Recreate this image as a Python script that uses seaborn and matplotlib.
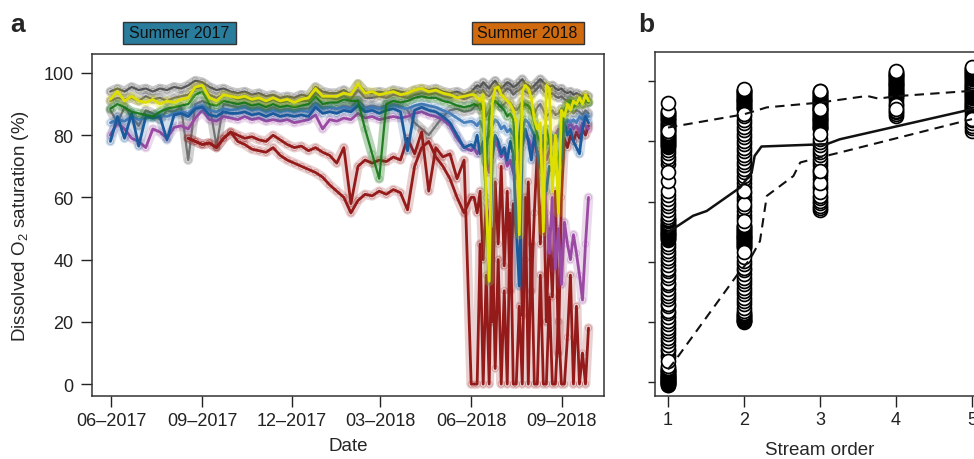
import matplotlib
matplotlib.use('Agg')
import matplotlib.pyplot as plt
from matplotlib.patches import Rectangle
import seaborn as sns
import pandas as pd
import numpy as np

sns.set_style('ticks')
plt.rcParams['font.family'] = ['Liberation Sans', 'DejaVu Sans']
plt.rcParams['mathtext.default'] = 'regular'

# ---- panel a: O2 saturation time series ----
# weekly values until end of May 2018, then every ~3 days over summer 2018
wk_dates = pd.date_range('2017-05-31', '2018-06-01', periods=52)
sm_dates = pd.date_range('2018-06-04', '2018-09-28', periods=39)

g1_wk = [94, 95, 94, 95.5, 94.5, 95, 94, 95, 94.5, 95.5, 95, 96, 97.5,
         97, 95.5, 94.5, 95, 94, 93.5, 94, 93, 93.5, 92.5, 93, 92, 92.5,
         92, 93, 92.5, 95.5, 94, 93.5, 93.5, 94.5, 93, 96.5, 94, 93.5, 94,
         93.5, 94.5, 94, 93.5, 94.5, 95, 94.5, 95, 94, 93.5, 94, 93, 94]
g1_sm = [95, 96, 95.5, 97, 96, 95, 96.5, 97.5, 96, 95, 96, 97, 96.5,
         95.5, 96, 97, 98, 96.5, 96, 95, 96, 97, 98, 97, 96, 95.5,
         96, 95, 94.5, 95, 94, 93.5, 94, 93, 93.5, 93, 92.5, 93, 92.5]

g2_wk = [91, 92, 91.5, 92, 91, 92.5, 91.5, 92, 91, 92, 92.5, 93, 95,
         95.5, 93, 92, 93, 92.5, 91.5, 92, 91, 91.5, 90.5, 91.5, 90.5, 91,
         90.5, 91, 91, 93.5, 92, 92, 91.5, 92.5, 91.5, 94.5, 92, 92, 92.5,
         92, 93, 92.5, 92, 93, 93.5, 93, 93.5, 92.5, 92, 92.5, 91.5, 92.5]
g2_sm = [93, 94, 93.5, 94.5, 93, 92.5, 94, 95, 94, 93, 94, 95, 94.5,
         93, 94, 94.5, 95.5, 94, 93.5, 93, 94, 95, 96, 94.5, 93.5, 93,
         93.5, 92.5, 92, 92.5, 91.5, 91, 91.5, 90.5, 91, 90.5, 90, 91, 90.5]

g3_wk = [88, 84, 89, 86, 83, 88, 87, 85, 88, 87.5, 89, 72, 90,
         91, 90, 76.5, 90, 89.5, 89, 89.5, 88.5, 89, 88, 89, 88, 88.5,
         88, 88.5, 88.5, 90.5, 89, 89, 88.5, 89.5, 89, 91.5, 89, 89.5, 89,
         89.5, 90, 89.5, 88, 84, 82, 80, 83, 86, 88, 88.5, 87.5, 88]
g3_sm = [89, 90, 88, 89.5, 86, 88, 90, 91, 90, 89, 90, 91, 90.5,
         89, 88, 89, 91, 90, 89.5, 88, 87, 89, 90, 88, 86, 87,
         88, 86.5, 87, 88.5, 88, 87.5, 88, 87, 88, 87.5, 86.5, 88, 87]

yellow_wk = [91.5, 94, 91, 92.5, 91, 90.5, 91.5, 90, 91, 90.5, 91.5, 92, 95.5,
             96, 92, 91, 93, 92.5, 92, 92.5, 91.5, 92, 91, 92, 91, 91.5,
             90.5, 91.5, 92, 95, 92.5, 92.5, 92.5, 93.5, 93, 96.5, 93.5, 94, 93,
             93.5, 94, 93, 93.5, 94.5, 95, 94, 94.5, 93.5, 93, 92, 92.5, 93]
yellow_sm = [93, 92, 91, 93, 60, 33, 90, 95, 95.5, 93, 92, 91, 90,
             88, 84, 48, 94, 96, 95, 92, 85, 82, 84, 49, 96, 95,
             62, 80, 55, 88, 86, 90, 88, 91, 90, 92, 90, 93, 91]

green_wk = [88.5, 90, 89, 87.5, 87, 86.5, 86, 87.5, 88.5, 89, 89.5, 90, 93,
            94, 90, 89.5, 91, 90.5, 90, 90.5, 89.5, 90, 89, 90, 89, 89.5,
            89, 89.5, 90, 92.5, 90, 90.5, 90.5, 91.5, 91, 91, 82, 74, 66,
            90, 91, 90.5, 91, 92, 92.5, 92, 92, 91, 90.5, 89.5, 89, 89.5]
green_sm = [90, 89.5, 90, 88, 71, 86, 90, 91, 90, 89, 88, 86, 87,
            85, 72, 80, 89, 90, 89.5, 88, 84, 80, 78, 76, 82, 78,
            72, 74, 71, 80, 88, 90, 91, 89, 90, 91, 90, 91.5, 90.5]

blue_wk = [78, 86, 79, 87, 76.5, 86, 85.5, 86, 78.5, 86.5, 87, 86, 88.5,
           89, 86.5, 86, 87.5, 87, 87, 87.5, 86.5, 87, 86, 87, 86, 86.5,
           86, 86.5, 86, 89, 87, 87.5, 87, 88, 87.5, 89.5, 87.5, 88, 87,
           88, 88.5, 87.5, 75, 88, 89, 88, 87.5, 86, 84, 80, 76, 77]
blue_sm = [76, 80, 74, 78, 60, 33, 72, 80, 78, 74, 76, 72, 78,
           74, 50, 31.5, 76, 82, 78, 72, 80, 74, 70, 66, 62, 70,
           68, 72, 68.5, 73, 84, 80, 82, 78, 76, 74, 82, 86, 84]

lblue_wk = [84, 85, 84.5, 86, 85, 85.5, 86, 86.5, 86, 87, 87.5, 87, 89,
            89.5, 88, 87.5, 88.5, 88, 88.5, 89, 88, 88.5, 87.5, 88, 87.5, 88,
            87.5, 88, 87.5, 90, 88.5, 89, 88.5, 89, 88.5, 90, 88.5, 89, 88.5,
            89, 89.5, 89, 88.5, 89.5, 90, 89.5, 89, 88, 87, 85.5, 84, 84.5]
lblue_sm = [84, 83, 84.5, 82, 78, 80, 83, 85, 84, 82, 83, 81, 82,
            80, 78, 76, 82, 85, 84, 82, 80, 79, 78, 80, 77, 78,
            80, 79, 80, 82, 84, 85, 84, 85, 84, 86, 85, 86.5, 86]

purple_wk = [80, 84, 82, 79, 78, 76, 82, 81, 79, 82.5, 83, 82, 85.5,
             88, 85, 84.5, 86, 85.5, 85, 86, 85, 85.5, 84.5, 85, 84.5, 85,
             84, 84.5, 85, 86.5, 82, 85, 84.5, 85.5, 85, 87, 85.5, 86, 85,
             85.5, 86, 85.5, 86, 87, 87.5, 86.5, 86, 85, 83, 79, 76, 75]
purple_sm = [76, 74, 76, 75, 72, 68, 74, 78, 76, 73, 75, 70, 72,
             68, 66, 72, 78, 80, 79, 76, 78, 74, 73, 76, 72, 75,
             78, 80, 82, 80, 83, 82, 84, 82, 83, 81, 84, 83, 82]
# second purple logger, only late summer 2018
purple2_sm = [78, 55, 42, 60, 37, 50, 32, 52, 45, 40, 48, 42, 35, 27, 45, 60]

# two red loggers, starting late August 2017
red1_wk = [79, 78, 77, 77.5, 76, 79, 81, 80, 79, 79.5, 78.5, 78, 80, 78.5,
           77, 76, 76.5, 75, 76, 74.5, 73.5, 71, 76, 58, 70, 72, 71, 72,
           71.5, 73, 72, 79, 74, 81, 62, 76, 73, 74, 66, 72, 0]
red1_sm = [0, 0, 45, 0, 35, 0, 50, 5, 40, 0, 30, 0, 55,
           0, 0, 25, 0, 60, 0, 45, 0, 0, 35, 0, 0, 28,
           0, 0, 20, 0, 0, 15, 35, 0, 25, 0, 10, 0, 18]
red2_wk = [79, 78, 77, 77.5, 76, 79, 81, 78, 77, 75.5, 75, 74.5, 76, 73.5,
           72, 71, 70, 69, 68, 66.5, 64, 62, 60, 55, 59, 61, 60.5, 62,
           61, 62.5, 61.5, 56, 70, 76, 78, 73, 70, 66, 60, 55, 60]
red2_sm = [60, 55, 62, 40, 58, 52, 20, 65, 45, 70, 38, 62, 30,
           58, 48, 70, 22, 40, 65, 30, 55, 75, 45, 68, 20, 50,
           28, 62, 10, 60, 79, 76, 80, 78, 81, 79, 82, 80, 83]

full = wk_dates.append(sm_dates)
red_dates = wk_dates[11:].append(sm_dates)

loggers = [
    ('g1', full, g1_wk + g1_sm, '#4a4a4a'),
    ('g2', full, g2_wk + g2_sm, '#5a5a5a'),
    ('g3', full, g3_wk + g3_sm, '#6a6a6a'),
    ('red1', red_dates, red1_wk + red1_sm, '#951b1b'),
    ('red2', red_dates, red2_wk + red2_sm, '#951b1b'),
    ('purple', full, purple_wk + purple_sm, '#9a4aa3'),
    ('purple2', sm_dates[23:], purple2_sm, '#9a4aa3'),
    ('lblue', full, lblue_wk + lblue_sm, '#4a80bb'),
    ('blue', full, blue_wk + blue_sm, '#1b5a9c'),
    ('green', full, green_wk + green_sm, '#137513'),
    ('yellow', full, yellow_wk + yellow_sm, '#dede00'),
]

frames = []
for name, dts, vals, col in loggers:
    frames.append(pd.DataFrame({'date': dts, 'o2': vals, 'logger': name}))
df = pd.concat(frames, ignore_index=True)

# ---- panel b: saturation by stream order ----
# listed bottom to top, the fully visible (white) circles last
ord1 = [-1.0, -0.8, -0.6, -0.4, -0.2, 0.0, 0.2, 0.4, 0.5, 0.7, 0.9, 1.1, 1.3, 1.5,
        1.6, 1.9, 2.1, 2.3, 2.5, 2.8, 3.0, 3.3, 3.6, 3.9, 4.1, 4.5, 4.8, 5.4,
        8.3, 9.1, 10.4, 11.2, 12.5, 13.8, 14.6, 15.9, 17.1, 18.0, 19.4, 20.3, 21.7,
        22.9, 23.8, 25.2, 26.1, 27.5, 28.7, 29.6, 31.0, 32.2, 33.1, 34.5, 35.6, 36.8,
        37.7, 39.1, 40.3, 41.2, 42.6, 43.7, 44.9, 46.0,
        47.2, 47.5, 47.8, 48.2, 48.5, 48.8, 49.1, 49.4, 49.6, 50.0, 50.3, 50.6, 50.9,
        51.3, 51.6, 51.9, 52.2, 52.6, 53.0, 53.5, 53.9, 54.3, 54.8,
        56.0, 57.3, 58.4, 59.7, 60.9, 62.2, 63.4,
        72.4, 73.7, 74.9, 76.1, 77.3,
        78.2, 78.5, 78.8, 79.1, 79.5, 79.8, 80.1, 80.4, 80.8, 81.1, 81.4, 81.8, 82.1,
        82.5, 82.9, 83.3, 83.7, 84.0, 84.4, 84.8, 85.1, 85.5, 85.9, 86.2, 86.6, 87.0,
        87.3, 87.6, 88.0, 88.4, 88.8, 89.1, 89.5, 89.8, 90.2,
        7.0, 66.8, 69.9, 83.5, 92.9]
ord2 = [20.0, 20.2, 20.5, 20.8, 21.1, 21.4, 21.6, 22.0, 22.2, 22.6, 22.9, 23.7, 24.8,
        25.9, 27.1, 28.0, 29.3, 30.4, 31.2, 32.6, 33.8, 34.7, 36.0, 37.2, 38.1, 39.4,
        40.4, 44.6, 44.9, 45.2, 45.6, 45.9, 46.2, 46.5, 46.8, 47.1, 47.5, 47.8, 48.1,
        48.4, 48.7, 49.0, 49.4, 49.7, 50.0, 50.3, 50.7, 51.0, 51.3, 51.6, 52.0, 52.3,
        54.4, 55.6, 56.9, 58.1, 60.4, 61.6, 62.7, 64.9, 66.2, 67.4, 68.5, 69.7, 70.9,
        72.0, 73.3, 74.4, 75.6, 76.8, 77.9, 79.1, 80.2, 81.4, 82.5, 83.7, 84.8, 86.0,
        87.1, 88.5, 90.6, 90.9, 91.2, 91.5, 91.8, 92.1, 92.4, 92.7, 93.0, 93.3, 93.6,
        93.9, 94.2, 94.5, 94.8, 95.1, 95.4, 95.7, 96.0, 96.3, 96.6, 96.9, 97.2, 97.5,
        41.5, 43.3, 53.4, 59.2, 63.6, 89.2]
ord3 = [57.2, 57.9, 58.6, 59.4, 60.3, 61.2, 62.0,
        64.5, 65.3, 67.6, 68.7, 69.8, 70.9, 72.0, 73.1, 74.2, 75.4, 76.5, 77.6, 78.7,
        79.8, 80.9, 84.0, 84.3, 84.6, 84.9, 85.2, 85.5, 85.8, 86.1, 86.4, 86.7, 87.0,
        87.3, 87.6, 87.9, 88.2, 88.5, 88.8, 89.1, 89.4, 89.7, 90.0, 90.3, 90.6, 90.9,
        91.2, 91.5, 91.8, 92.1, 92.4, 92.7, 93.0, 93.3, 93.6, 93.9, 94.2, 94.5, 94.8,
        95.1, 95.4, 95.7, 96.0, 96.3, 96.6, 96.9,
        63.2, 66.3, 70.2, 82.4, 90.7]
ord4 = [88.5, 89.0, 89.6, 90.2, 91.0, 92.0, 93.2, 94.0, 94.6, 95.0, 95.3, 95.6, 95.9,
        96.2, 96.5, 96.8, 97.1, 97.4, 97.7, 98.0, 98.3, 98.6, 98.9, 99.2, 99.5, 99.8,
        100.1, 100.4, 100.7, 101.0, 101.3, 101.6, 101.9, 102.2, 102.5, 102.8, 103.1,
        103.4, 92.0, 90.7]
ord5 = [83.6, 84.3, 85.0, 86.0, 87.0, 88.0, 89.0, 90.0, 90.4, 90.8, 91.1, 91.5,
        91.8, 92.2, 92.5, 92.9, 93.2, 93.6, 93.9, 94.3, 94.6, 95.0, 95.3, 95.7, 96.0,
        96.4, 96.7, 97.1, 97.4, 97.8, 98.1, 98.5, 98.8, 99.2, 99.5, 99.9, 100.2,
        100.6, 100.9, 101.3, 101.6, 102.0, 102.3, 102.7, 103.0, 103.4, 103.7, 104.1,
        104.4, 104.8, 87.4]

med_x = [1, 1.33, 1.51, 1.95, 2.1, 2.14, 2.23, 3.09, 3.26, 5]
med_y = [49.8, 55.3, 56.9, 64.7, 69.6, 75.2, 78.3, 79.1, 80.7, 90.7]
upq_x = [1, 2, 2.3, 3, 3.62, 3.77, 4, 5]
upq_y = [84.6, 89.0, 91.3, 92.9, 95.1, 94.2, 95.0, 96.8]
loq_x = [1, 1.09, 1.9, 2.08, 2.21, 2.3, 2.65, 2.74, 3.0, 3.26, 5]
loq_y = [4.3, 7.1, 35.3, 40.9, 46.9, 61.9, 68.5, 73.0, 74.7, 76.3, 87.4]

pts = pd.DataFrame({
    'order': [1] * len(ord1) + [2] * len(ord2) + [3] * len(ord3) + [4] * len(ord4) + [5] * len(ord5),
    'sat': ord1 + ord2 + ord3 + ord4 + ord5,
})

# ---- figure ----
fig = plt.figure(figsize=(9.74, 4.6), dpi=100)
ax = fig.add_axes([0.0941, 0.1359, 0.5263, 0.7446])
axb = fig.add_axes([0.6725, 0.137, 0.3388, 0.7472])

for name, _, _, col in loggers:
    d = df[df['logger'] == name]
    is_gray = name.startswith('g')
    sns.lineplot(data=d, x='date', y='o2', color=col, lw=7, alpha=0.3 if is_gray else 0.2,
                 estimator=None, sort=False, ax=ax)
    sns.scatterplot(data=d, x='date', y='o2', color=col, facecolor='none', edgecolor=col,
                    s=20, linewidth=0.6, alpha=0.3, ax=ax)
    sns.lineplot(data=d, x='date', y='o2', color=col, lw=1.6 if is_gray else 2.0,
                 alpha=0.9 if is_gray else 1.0, estimator=None, sort=False, ax=ax)

ax.set_xlim(pd.Timestamp('2017-05-12'), pd.Timestamp('2018-10-14'))
ax.set_ylim(-4.0, 106.1)
tick_dates = pd.to_datetime(['2017-06-01', '2017-09-01', '2017-12-01',
                             '2018-03-01', '2018-06-01', '2018-09-01'])
ax.set_xticks(tick_dates)
ax.set_xticklabels(['06–2017', '09–2017', '12–2017', '03–2018', '06–2018', '09–2018'])
ax.set_yticks([0, 20, 40, 60, 80, 100])
ax.set_xlabel('Date', fontsize=13.5)
ax.set_ylabel('Dissolved O$_2$ saturation (%)', fontsize=13.5)
ax.xaxis.set_label_coords(0.5, -0.118)
ax.yaxis.set_label_coords(-0.118, 0.5)
ax.tick_params(axis='both', labelsize=13, length=8, width=1, colors='#222222')
ax.tick_params(axis='x', pad=3)
ax.tick_params(axis='y', pad=5)

sns.scatterplot(data=pts, x='order', y='sat', color='white', facecolor='white',
                edgecolor='black', s=100, linewidth=1.25, ax=axb, zorder=2)
sns.lineplot(x=med_x, y=med_y, color='#111111', lw=1.8, estimator=None, sort=False, ax=axb)
sns.lineplot(x=upq_x, y=upq_y, color='#111111', lw=1.5, estimator=None, sort=False, ax=axb)
axb.lines[-1].set_dashes([4.5, 3])
sns.lineplot(x=loq_x, y=loq_y, color='#111111', lw=1.5, estimator=None, sort=False, ax=axb)
axb.lines[-1].set_dashes([4.5, 3])
axb.set_xlim(0.829, 5.171)
axb.set_ylim(-4.55, 109.6)
axb.set_xticks([1, 2, 3, 4, 5])
axb.set_yticks([0, 20, 40, 60, 80, 100])
axb.set_yticklabels([])
axb.set_xlabel('Stream order', fontsize=13.5)
axb.set_ylabel('')
axb.xaxis.set_label_coords(0.5, -0.13)
axb.tick_params(axis='x', labelsize=13, length=8, width=1, pad=3, colors='#222222')
axb.tick_params(axis='y', length=5, width=1, colors='#222222')

for a in (ax, axb):
    for sp in a.spines.values():
        sp.set_visible(True)
        sp.set_color('#333333')
        sp.set_linewidth(1.1)

# panel letters and season boxes
fig.text(10 / 974, 1 - 32 / 460, 'a', fontsize=19, fontweight='bold', ha='left', va='baseline')
fig.text(638 / 974, 1 - 32 / 460, 'b', fontsize=19, fontweight='bold', ha='left', va='baseline')
for x0, x1, label, fc in [(123, 236, 'Summer 2017', '#2a7c9c'), (471.5, 583.5, 'Summer 2018', '#cf6a0e')]:
    fig.add_artist(Rectangle((x0 / 974, 1 - 44.5 / 460), (x1 - x0) / 974, 21.5 / 460,
                             transform=fig.transFigure, facecolor=fc, edgecolor='#333333', lw=1))
    fig.text((x0 + x1) / 2 / 974, 1 - 34 / 460, label, fontsize=11.5, ha='center', va='center',
             color='#111111')

fig.savefig('out.png', dpi=100)
